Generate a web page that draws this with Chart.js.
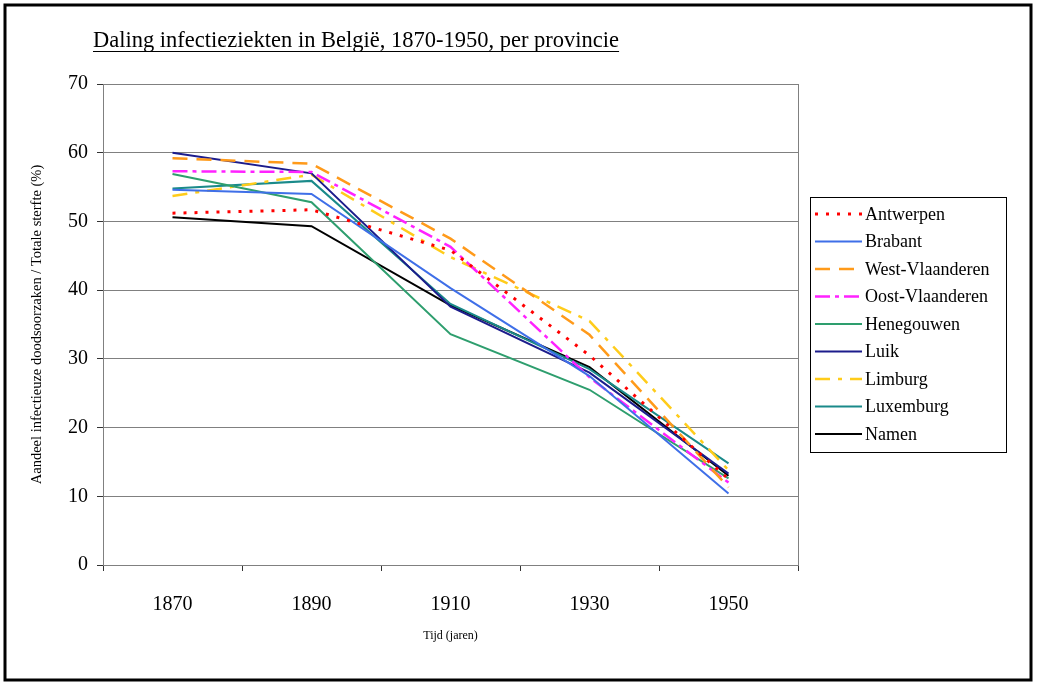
<!DOCTYPE html>
<html>
<head>
<meta charset="utf-8">
<script src="https://cdn.jsdelivr.net/npm/chart.js@4"></script>
<style>
body{margin:0;background:#fff}
#wrap{width:1037px;height:684px}
</style>
</head>
<body>
<div id="wrap"><canvas id="c" width="1037" height="684"></canvas></div>
<script>
const years=['1870','1890','1910','1930','1950']
const yTicks=[0,10,20,30,40,50,60,70]

const antwerpen=[51.2,51.7,45.8,30.5,12.5]
const brabant=[54.6,54.0,40.3,27.5,10.4]
const westVlaanderen=[59.2,58.4,47.5,33.5,11.3]
const oostVlaanderen=[57.3,57.2,46.3,27.3,12.0]
const henegouwen=[56.9,52.8,33.6,25.5,12.6]
const luik=[60.0,57.0,37.6,28.0,13.3]
const limburg=[53.7,56.8,44.8,35.5,13.8]
const luxemburg=[54.8,55.9,38.0,28.5,14.8]
const namen=[50.6,49.3,37.8,28.8,13.0]

const serif='"Liberation Serif","DejaVu Serif",serif'

function ds(label,data,color,dash,width){
return {label:label,data:data,borderColor:color,backgroundColor:color,borderDash:dash,
borderWidth:width||2,pointRadius:0,fill:false,tension:0}
}

// title, legend box, plot border and outer frame
const deco={
id:'deco',
afterDraw(chart){
const c=chart.ctx
const a=chart.chartArea
c.save()

c.strokeStyle='#000'
c.lineWidth=3
c.strokeRect(5,5,1026,675)

c.strokeStyle='#808080'
c.lineWidth=1
c.strokeRect(a.left+0.5,a.top+0.5,a.right-a.left,a.bottom-a.top)

c.fillStyle='#000'
c.font='22.5px '+serif
c.textBaseline='alphabetic'
const t='Daling infectieziekten in België, 1870-1950, per provincie'
c.fillText(t,93,47)
const w=c.measureText(t).width
c.strokeStyle='#000'
c.lineWidth=1
c.beginPath()
c.moveTo(93,51.5)
c.lineTo(93+w,51.5)
c.stroke()

const lx=810,ly=197,lw=196,lh=255
c.lineWidth=1
c.strokeStyle='#000'
c.strokeRect(lx+0.5,ly+0.5,lw,lh)
c.font='18px '+serif
c.textBaseline='middle'
chart.data.datasets.forEach((d,i)=>{
const y=214+i*27.5
c.strokeStyle=d.borderColor
c.lineWidth=d.borderWidth
c.setLineDash(d.borderDash||[])
c.beginPath()
c.moveTo(815,y)
c.lineTo(862,y)
c.stroke()
c.setLineDash([])
c.fillStyle='#000'
c.fillText(d.label,865,y+1)
})
c.restore()
}
}

new Chart(document.getElementById('c'),{
type:'line',
data:{
labels:years,
datasets:[
ds('Antwerpen',antwerpen,'#ff0000',[3,8],3),
ds('Brabant',brabant,'#3f6fe8',[]),
ds('West-Vlaanderen',westVlaanderen,'#ff9a1a',[15,9],2.5),
ds('Oost-Vlaanderen',oostVlaanderen,'#ff22ff',[15,5,4,5],2.5),
ds('Henegouwen',henegouwen,'#2e9e6e',[]),
ds('Luik',luik,'#1c1c8c',[]),
ds('Limburg',limburg,'#ffcc1a',[15,8,4,8],2.5),
ds('Luxemburg',luxemburg,'#1a8a8a',[]),
ds('Namen',namen,'#000000',[])
]
},
options:{
responsive:false,
animation:false,
layout:{padding:{left:20,right:239,top:84,bottom:41}},
plugins:{legend:{display:false},tooltip:{enabled:false}},
scales:{
x:{
offset:true,
afterFit(s){s.height=78},
grid:{offset:true,drawOnChartArea:false,drawTicks:true,tickLength:6,tickColor:'#333'},
border:{color:'#555'},
ticks:{color:'#000',padding:22,font:{family:serif,size:20}},
title:{display:true,text:'Tijd (jaren)',color:'#000',font:{family:serif,size:12},padding:{top:16,bottom:0}}
},
y:{
min:0,max:70,
afterFit(s){s.width=83},
afterBuildTicks(s){s.ticks=yTicks.map(v=>({value:v}))},
grid:{color:'#808080',tickLength:6,tickColor:'#333'},
border:{color:'#555'},
ticks:{color:'#000',padding:9,font:{family:serif,size:20}},
title:{display:true,text:'Aandeel infectieuze doodsoorzaken / Totale sterfte (%)',color:'#000',font:{family:serif,size:14.5},padding:{top:8,bottom:0}}
}
}
},
plugins:[deco]
})
</script>
</body>
</html>
